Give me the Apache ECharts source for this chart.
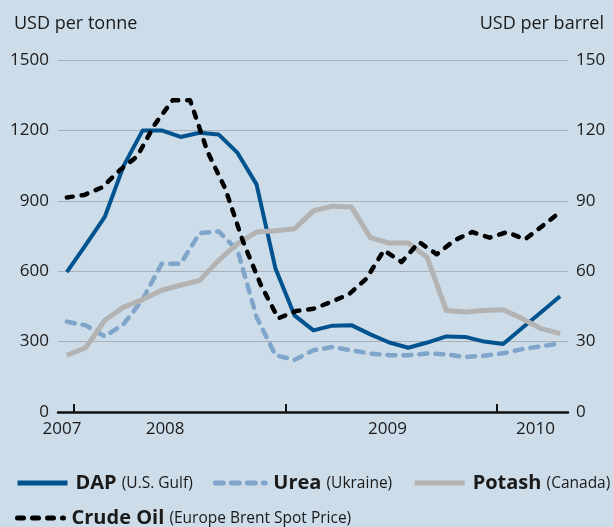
<!DOCTYPE html>
<html>
<head>
<meta charset="utf-8">
<script src="https://cdn.jsdelivr.net/npm/echarts@6/dist/echarts.min.js"></script>
<style>
  html, body { margin: 0; padding: 0; background: #cddce9; }
  #chart { width: 613px; height: 527px; }
</style>
</head>
<body>
<div id="chart"></div>
<script>
// Fertilizer prices, USD per tonne (27 observations across the period)
const dapUsGulf = [596, 712, 831, 1050, 1200, 1200, 1172, 1190, 1183, 1104, 970, 611, 412, 348, 368, 370, 331, 296, 274, 296, 322, 320, 300, 290, 358, 425, 493];
const ureaUkraine = [385, 369, 322, 375, 480, 632, 632, 762, 770, 689, 405, 242, 222, 263, 277, 263, 249, 242, 242, 249, 246, 234, 240, 250, 268, 280, 292];
const potashCanada = [242, 274, 391, 447, 479, 519, 540, 561, 646, 717, 767, 772, 781, 857, 877, 874, 743, 720, 720, 658, 433, 426, 433, 436, 398, 355, 334];

// Crude oil, Europe Brent spot price, USD per barrel (monthly, Dec 2007 - Apr 2010)
const brentCrude = [91.4, 92.5, 95.7, 103, 109, 122.6, 132.8, 132.8, 110.7, 95.1, 72.7, 54.4, 39.9, 43.0, 44.0, 46.9, 50.1, 56.8, 68.9, 63.9, 72.4, 67.2, 73.1, 76.7, 74.3, 76.7, 73.5, 79.3, 85.2];

// Axis text
const yearLabels = ['2007', '2008', '2009', '2010'];
const yearLabelAt = [-0.27, 5.58, 18.2, 26.6];   // label centres, in months from Dec 2007
const yearStartAt = [0.42, 12.42, 24.42];         // year boundaries, in months
const leftTicks = [0, 300, 600, 900, 1200, 1500];
const rightTicks = [0, 30, 60, 90, 120, 150];

const seriesNames = ['DAP', 'Urea', 'Potash', 'Crude Oil'];
const seriesNotes = ['(U.S. Gulf)', '(Ukraine)', '(Canada)', '(Europe Brent Spot Price)'];

// Both samplings span the same months; fertilizer points are spread evenly over it
const spanMonths = brentCrude.length - 1;
const oilPoints = brentCrude.map((v, j) => [j, v]);
const fertPoints = arr => arr.map((v, i) => [i * spanMonths / (arr.length - 1), v]);

const FONT = '"Open Sans", "Noto Sans", sans-serif';
const TXT = '#1a1a1a';

const chart = echarts.init(document.getElementById('chart'), null, { renderer: 'canvas' });

const legendText = {
  fontFamily: FONT,
  color: TXT,
  rich: {
    b: { fontFamily: FONT, fontWeight: 'bold', fontSize: 20, color: TXT, padding: [0, 0, 0, 3], verticalAlign: 'bottom' },
    n: { fontFamily: FONT, fontSize: 15.5, color: TXT, verticalAlign: 'bottom', padding: [0, 0, 1, 2] }
  }
};
const legendFormatter = name => `{b|${name}} {n|${seriesNotes[seriesNames.indexOf(name)]}}`;

chart.setOption({
  backgroundColor: '#cddce9',
  animation: false,
  textStyle: { fontFamily: FONT },
  title: [
    { text: 'USD per tonne', left: 9, top: 10, textStyle: { fontFamily: FONT, fontSize: 18, fontWeight: 'normal', color: TXT } },
    { text: 'USD per barrel', right: 4, top: 10, textStyle: { fontFamily: FONT, fontSize: 18, fontWeight: 'normal', color: TXT } }
  ],
  grid: { left: 58, right: 45, top: 60, bottom: 115, containLabel: false },
  legend: [
    {
      data: seriesNames.slice(0, 3),
      left: 15, right: 0, top: 473, padding: 0,
      itemWidth: 50, itemHeight: 16, itemGap: 20,
      textStyle: legendText, formatter: legendFormatter,
      lineStyle: { width: 5 },
      itemStyle: { opacity: 0 }
    },
    {
      data: seriesNames.slice(3),
      left: 15, right: 0, top: 508, padding: 0,
      itemWidth: 46, itemHeight: 16,
      textStyle: legendText, formatter: legendFormatter,
      lineStyle: { width: 5 },
      itemStyle: { opacity: 0 }
    }
  ],
  xAxis: {
    type: 'value',
    min: -0.5,
    max: 28.45,
    splitLine: { show: false },
    axisLine: { show: true, onZero: false, lineStyle: { color: '#111', width: 2.5 } },
    axisTick: { show: true, inside: true, length: 8, customValues: yearStartAt, lineStyle: { color: '#111', width: 2 } },
    axisLabel: {
      customValues: yearLabelAt,
      margin: 9,
      fontSize: 17, color: TXT, fontFamily: FONT,
      formatter: v => {
        const k = yearLabelAt.findIndex(p => Math.abs(p - v) < 1e-6);
        return k >= 0 ? yearLabels[k] : '';
      }
    }
  },
  yAxis: [
    {
      type: 'value', min: leftTicks[0], max: leftTicks[leftTicks.length - 1], interval: leftTicks[1] - leftTicks[0],
      axisLine: { show: false }, axisTick: { show: false },
      axisLabel: { margin: 9, fontSize: 17, color: TXT, fontFamily: FONT, formatter: v => String(v) },
      splitLine: { show: true, lineStyle: { color: '#a9b0b7', width: 1 } }
    },
    {
      type: 'value', min: rightTicks[0], max: rightTicks[rightTicks.length - 1], interval: rightTicks[1] - rightTicks[0],
      position: 'right',
      axisLine: { show: false }, axisTick: { show: false },
      axisLabel: { margin: 8, fontSize: 17, color: TXT, fontFamily: FONT, formatter: v => String(v) },
      splitLine: { show: false }
    }
  ],
  series: [
    {
      name: 'DAP', type: 'line', yAxisIndex: 0, data: fertPoints(dapUsGulf),
      symbol: 'none', color: '#00538f',
      lineStyle: { width: 4, color: '#00538f', join: 'round' }
    },
    {
      name: 'Urea', type: 'line', yAxisIndex: 0, data: fertPoints(ureaUkraine),
      symbol: 'none', color: '#7fa6ca',
      lineStyle: { width: 4.5, color: '#7fa6ca', type: [8, 8], cap: 'round', join: 'round' }
    },
    {
      name: 'Potash', type: 'line', yAxisIndex: 0, data: fertPoints(potashCanada),
      symbol: 'none', color: '#b3b3b3',
      lineStyle: { width: 5, color: '#b3b3b3', join: 'round' }
    },
    {
      name: 'Crude Oil', type: 'line', yAxisIndex: 1, data: oilPoints,
      symbol: 'none', color: '#000000',
      lineStyle: { width: 4.5, color: '#000000', type: [6, 9], cap: 'round', join: 'round' }
    }
  ]
});
</script>
</body>
</html>
